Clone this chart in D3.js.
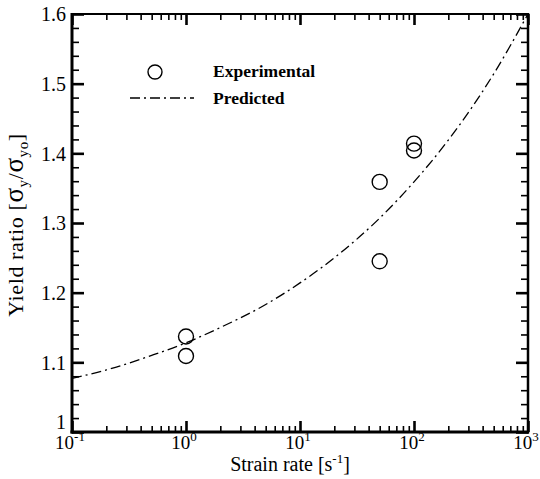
<!DOCTYPE html>
<html><head><meta charset="utf-8">
<script src="https://cdn.jsdelivr.net/npm/d3@7"></script>
<style>
body{margin:0;background:#fff}
svg{display:block}
svg text{font-family:"Liberation Serif","Times New Roman",Times,"DejaVu Serif",serif;fill:#000}
</style>
</head><body><svg id="c" width="540" height="479"></svg>
<script>
// ---- data ----
const expRate  = [1, 1, 50, 50, 100, 100];
const expRatio = [1.137, 1.109, 1.359, 1.245, 1.414, 1.404];
const predRate  = [0.1, 0.2, 0.5, 1, 2, 5, 10, 20, 50, 100, 200, 500, 1000];
const predRatio = [1.077, 1.089, 1.110, 1.128, 1.150, 1.183, 1.214, 1.250, 1.307, 1.359, 1.419, 1.514, 1.600];
const xTickExps = [-1, 0, 1, 2, 3];
const yTicks = [1, 1.1, 1.2, 1.3, 1.4, 1.5, 1.6];
const yTickLabels = ["1", "1.1", "1.2", "1.3", "1.4", "1.5", "1.6"];
const legendLabels = ["Experimental", "Predicted"];

// ---- layout ----
const L = 72, R = 528, T = 14, B = 432;
const svg = d3.select("#c");
const x = d3.scaleLog().domain([0.1, 1000]).range([L, R]);
const y = d3.scaleLinear().domain([1, 1.6]).range([B, T]);

const xMajor = xTickExps.map(e => Math.pow(10, e));
const xMinor = [];
xTickExps.slice(0, -1).forEach(e => { for (let k = 2; k <= 9; k++) xMinor.push(k * Math.pow(10, e)); });
const yMinor = d3.range(0, 31).map(i => 1 + i * 0.02).filter(v => !yTicks.some(t => Math.abs(t - v) < 1e-9));

function styleAxis(g, w) {
  g.select(".domain").remove();
  g.selectAll(".tick line").attr("stroke", "#000").attr("stroke-width", w);
}
// bottom
svg.append("g").attr("transform", `translate(0,${B})`)
  .call(d3.axisBottom(x).tickValues(xMinor).tickSize(-6).tickFormat(""))
  .call(g => styleAxis(g, 1.6));
svg.append("g").attr("transform", `translate(0,${B})`)
  .call(d3.axisBottom(x).tickValues(xMajor).tickSize(-11).tickFormat(""))
  .call(g => styleAxis(g, 2.6));
// top
svg.append("g").attr("transform", `translate(0,${T})`)
  .call(d3.axisTop(x).tickValues(xMinor).tickSize(-6).tickFormat(""))
  .call(g => styleAxis(g, 1.6));
svg.append("g").attr("transform", `translate(0,${T})`)
  .call(d3.axisTop(x).tickValues(xMajor).tickSize(-11).tickFormat(""))
  .call(g => styleAxis(g, 2.6));
// left
svg.append("g").attr("transform", `translate(${L},0)`)
  .call(d3.axisLeft(y).tickValues(yMinor).tickSize(-7).tickFormat(""))
  .call(g => styleAxis(g, 1.6));
const yl = svg.append("g").attr("transform", `translate(${L},0)`)
  .call(d3.axisLeft(y).tickValues(yTicks).tickSize(-12).tickPadding(6)
    .tickFormat((d, i) => yTickLabels[i]))
  .call(g => styleAxis(g, 2.6));
yl.selectAll(".tick text").attr("font-size", 20).attr("font-family", null)
  .attr("dy", d => d === 1 ? "-0.18em" : "0.34em");
// right
svg.append("g").attr("transform", `translate(${R},0)`)
  .call(d3.axisRight(y).tickValues(yMinor).tickSize(-7).tickFormat(""))
  .call(g => styleAxis(g, 1.6));
svg.append("g").attr("transform", `translate(${R},0)`)
  .call(d3.axisRight(y).tickValues(yTicks).tickSize(-12).tickFormat(""))
  .call(g => styleAxis(g, 2.6));

// frame
svg.append("line").attr("x1", L).attr("x2", L).attr("y1", T - 1).attr("y2", B + 1.5).attr("stroke", "#000").attr("stroke-width", 3);
svg.append("line").attr("x1", L - 1.5).attr("x2", R + 1).attr("y1", B).attr("y2", B).attr("stroke", "#000").attr("stroke-width", 3);
svg.append("line").attr("x1", L).attr("x2", R + 1).attr("y1", T).attr("y2", T).attr("stroke", "#000").attr("stroke-width", 2);
svg.append("line").attr("x1", R).attr("x2", R).attr("y1", T - 1).attr("y2", B + 1.5).attr("stroke", "#000").attr("stroke-width", 2.5);

// x tick labels 10^n
const xl = svg.append("g");
xTickExps.forEach(e => {
  const t = xl.append("text").attr("x", x(Math.pow(10, e)) - 2).attr("y", B + 17)
    .attr("font-size", 19).attr("text-anchor", "middle");
  t.append("tspan").text("10");
  t.append("tspan").attr("font-size", 13).attr("dy", -8).text(e);
});

// axis titles
const xt = svg.append("text").attr("x", 290).attr("y", 471).attr("font-size", 20).attr("text-anchor", "middle");
xt.append("tspan").text("Strain rate [s");
xt.append("tspan").attr("font-size", 13).attr("dy", -8).text("-1");
xt.append("tspan").attr("dy", 8).text("]");

const ytl = svg.append("text").attr("transform", "translate(23,225) rotate(-90)")
  .attr("font-size", 22).attr("text-anchor", "middle").attr("letter-spacing", 0.6);
ytl.append("tspan").text("Yield ratio [");
ytl.append("tspan").attr("font-size", 27).text("σ");
ytl.append("tspan").attr("font-size", 15).attr("dy", 5).text("y");
ytl.append("tspan").attr("dy", -5).text("/");
ytl.append("tspan").attr("font-size", 27).text("σ");
ytl.append("tspan").attr("font-size", 15).attr("dy", 5).text("yo");
ytl.append("tspan").attr("dy", -5).text("]");

// predicted curve
const dashPat = "10,4,2,4";
const line = d3.line().x((d, i) => x(predRate[i])).y(d => y(d)).curve(d3.curveMonotoneX);
svg.append("path").datum(predRatio).attr("d", line).attr("fill", "none")
  .attr("stroke", "#000").attr("stroke-width", 1.3).attr("stroke-dasharray", dashPat);

// experimental points
svg.append("g").selectAll("circle").data(expRatio).join("circle")
  .attr("cx", (d, i) => x(expRate[i])).attr("cy", d => y(d)).attr("r", 7.5)
  .attr("fill", "none").attr("stroke", "#000").attr("stroke-width", 1.4);

// legend
svg.append("circle").attr("cx", 155).attr("cy", 72).attr("r", 7).attr("fill", "none").attr("stroke", "#000").attr("stroke-width", 1.4);
svg.append("line").attr("x1", 130).attr("x2", 194).attr("y1", 98).attr("y2", 98)
  .attr("stroke", "#000").attr("stroke-width", 1.3).attr("stroke-dasharray", dashPat);
svg.append("text").attr("x", 213).attr("y", 77).attr("font-size", 17.5).attr("font-weight", "bold").text(legendLabels[0]);
svg.append("text").attr("x", 213).attr("y", 104).attr("font-size", 17.5).attr("font-weight", "bold").text(legendLabels[1]);
</script>
</body></html>
